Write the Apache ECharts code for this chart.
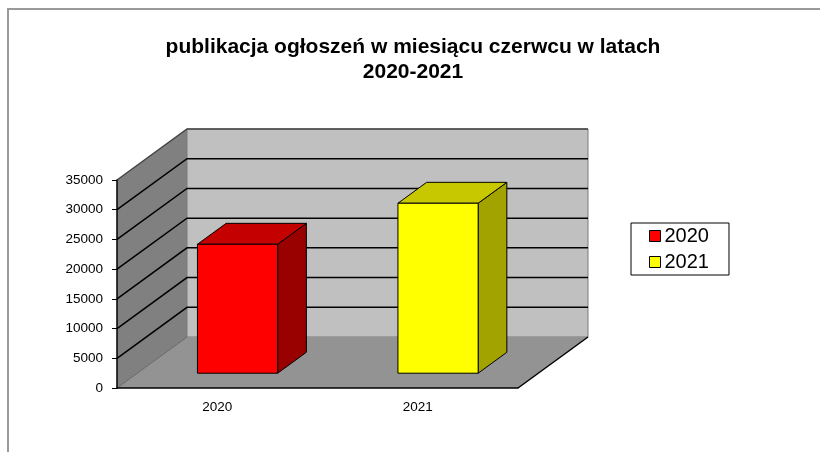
<!DOCTYPE html>
<html>
<head>
<meta charset="utf-8">
<script src="https://cdn.jsdelivr.net/npm/echarts@6/dist/echarts.min.js"></script>
<style>
  html, body { margin: 0; padding: 0; background: #fff; }
  #chart { width: 820px; height: 452px; }
</style>
</head>
<body>
<div id="chart"></div>
<script>
const categories = ['2020', '2021'];
const values = [21700, 28600];
const yTicks = [0, 5000, 10000, 15000, 20000, 25000, 30000, 35000];

// kolory słupków: przód, góra, bok
const frontColors = ['#ff0000', '#ffff00'];
const topColors = ['#c40000', '#c8c800'];
const sideColors = ['#990000', '#a3a300'];

// rzut głębokości (pseudo 3D jak w Excelu)
const DX = 70;
const DY = -51;
const F0 = 0.29;
const F1 = 0.70;
const FONT = 'Liberation Sans, Arial, sans-serif';

const chart = echarts.init(document.getElementById('chart'), null, { renderer: 'canvas' });

function renderWalls(params, api) {
  const cs = params.coordSys;
  const x0 = cs.x, x1 = cs.x + cs.width;
  const yb = api.coord([0, 0])[1];
  const yt = api.coord([0, yTicks[yTicks.length - 1]])[1];
  const children = [];
  // lewa ściana
  children.push({
    type: 'polygon',
    shape: { points: [[x0, yb], [x0, yt], [x0 + DX, yt + DY], [x0 + DX, yb + DY]] },
    style: { fill: '#808080', stroke: null }
  });
  // tylna ściana
  children.push({
    type: 'polygon',
    shape: { points: [[x0 + DX, yt + DY], [x1 + DX, yt + DY], [x1 + DX, yb + DY], [x0 + DX, yb + DY]] },
    style: { fill: '#c0c0c0', stroke: '#7a7a7a', lineWidth: 1 }
  });
  // podłoga
  children.push({
    type: 'polygon',
    shape: { points: [[x0, yb], [x0 + DX, yb + DY], [x1 + DX, yb + DY], [x1, yb]] },
    style: { fill: '#939393', stroke: null }
  });
  children.push({
    type: 'line',
    shape: { x1: x0, y1: yb, x2: x0 + DX, y2: yb + DY },
    style: { stroke: '#555', lineWidth: 0.8 }
  });
  children.push({
    type: 'line',
    shape: { x1: x1, y1: yb, x2: x1 + DX, y2: yb + DY },
    style: { stroke: '#000', lineWidth: 1.5 }
  });
  // linie siatki
  yTicks.forEach(function (v) {
    if (v === 0) return;
    const y = api.coord([0, v])[1];
    children.push({
      type: 'polyline',
      shape: { points: [[x0, y], [x0 + DX, y + DY], [x1 + DX, y + DY]] },
      style: { stroke: v === yTicks[yTicks.length - 1] ? '#444' : '#000', lineWidth: 1.5, fill: null }
    });
  });
  return { type: 'group', children: children };
}

function renderBar(params, api) {
  const idx = params.seriesIndex - 1;
  const cat = api.value(0);
  const base = api.coord([cat, 0]);
  const top = api.coord([cat, api.value(1)]);
  const band = api.size([1, 0])[0];
  const w = band * 0.4;
  const x = base[0] - w / 2 + DX * F0;
  const yB = base[1] + DY * F0;
  const yT = top[1] + DY * F0;
  const ddx = DX * (F1 - F0);
  const ddy = DY * (F1 - F0);
  const line = { stroke: '#000', lineWidth: 1, lineJoin: 'round' };
  return {
    type: 'group',
    children: [
      {
        type: 'polygon',
        shape: { points: [[x + w, yT], [x + w + ddx, yT + ddy], [x + w + ddx, yB + ddy], [x + w, yB]] },
        style: Object.assign({ fill: sideColors[idx] }, line)
      },
      {
        type: 'polygon',
        shape: { points: [[x, yT], [x + ddx, yT + ddy], [x + w + ddx, yT + ddy], [x + w, yT]] },
        style: Object.assign({ fill: topColors[idx] }, line)
      },
      {
        type: 'rect',
        shape: { x: x, y: yT, width: w, height: yB - yT },
        style: Object.assign({ fill: frontColors[idx] }, line)
      }
    ]
  };
}

const series = [{
  name: 'walls',
  type: 'custom',
  silent: true,
  z: 0,
  renderItem: renderWalls,
  data: [[0, 0]],
  encode: { x: 0, y: 1 }
}];
categories.forEach(function (c, i) {
  series.push({
    name: c,
    type: 'custom',
    z: 2,
    renderItem: renderBar,
    itemStyle: { color: frontColors[i], borderColor: '#000', borderWidth: 1 },
    data: [[i, values[i]]],
    encode: { x: 0, y: 1 }
  });
});

chart.setOption({
  animation: false,
  title: {
    text: 'publikacja ogłoszeń w miesiącu czerwcu w latach\n2020-2021',
    left: 408,
    top: 30,
    textAlign: 'center',
    textStyle: { fontFamily: FONT, fontSize: 21, fontWeight: 'bold', color: '#000', lineHeight: 25 }
  },
  legend: {
    data: categories,
    orient: 'vertical',
    left: 631,
    top: 223,
    padding: [3, 20, 3, 18],
    itemGap: 6,
    itemWidth: 11,
    itemHeight: 11,
    icon: 'rect',
    backgroundColor: '#fff',
    borderColor: '#000',
    borderWidth: 1,
    borderRadius: 0,
    itemStyle: { borderColor: '#000', borderWidth: 1 },
    textStyle: { fontFamily: FONT, fontSize: 20, color: '#000', padding: [0, 0, 0, -1] }
  },
  grid: { left: 117, right: 302, top: 180, bottom: 64 },
  xAxis: {
    type: 'category',
    data: categories,
    z: 5,
    axisLine: { lineStyle: { color: '#000', width: 1.5 } },
    axisTick: { length: 5, lineStyle: { color: '#000', width: 1 } },
    axisLabel: { fontFamily: FONT, fontSize: 13.5, color: '#000', margin: 12 },
    splitLine: { show: false }
  },
  yAxis: {
    type: 'value',
    min: 0,
    max: 35000,
    interval: 5000,
    z: 5,
    axisLine: { show: true, lineStyle: { color: '#000', width: 1.5 } },
    axisTick: { show: true, length: 5, lineStyle: { color: '#000', width: 1 } },
    axisLabel: { fontFamily: FONT, fontSize: 13.5, color: '#000', margin: 14, formatter: function (v) { return String(v); } },
    splitLine: { show: false }
  },
  graphic: [{
    type: 'polyline',
    silent: true,
    shape: { points: [[8, 470], [8, 9], [830, 9]] },
    style: { stroke: '#999', lineWidth: 2, fill: null }
  }],
  series: series
});
</script>
</body>
</html>
